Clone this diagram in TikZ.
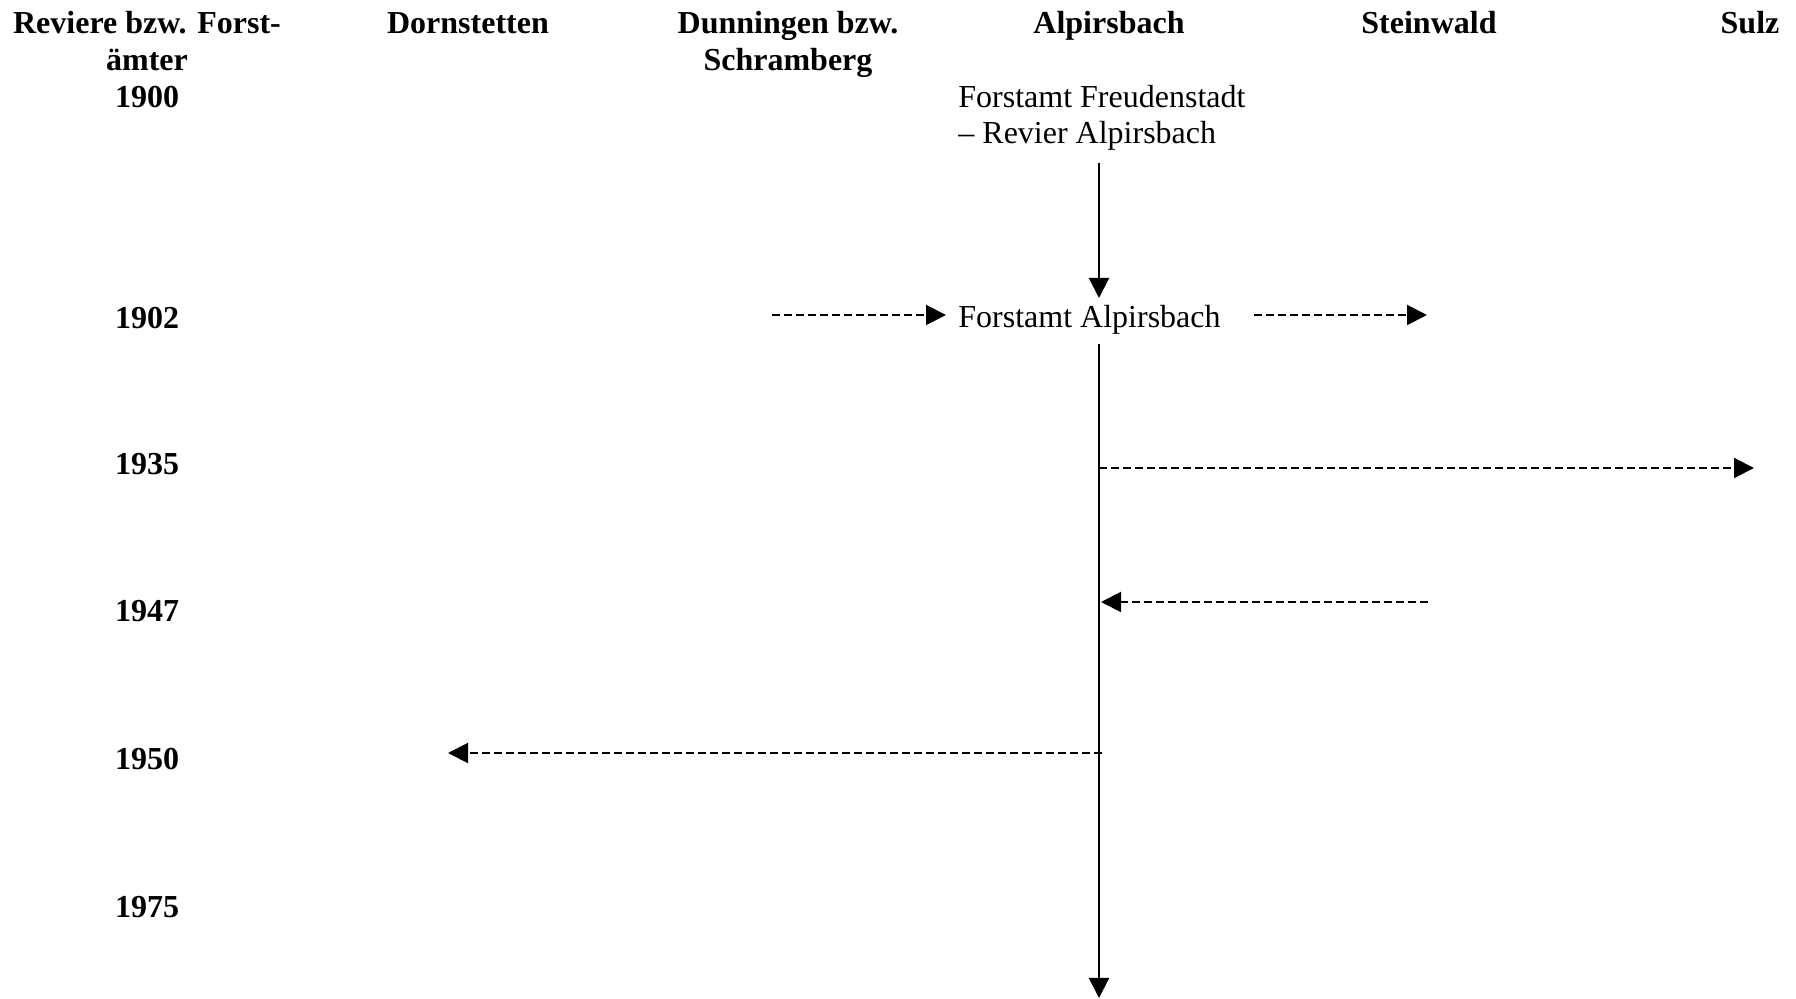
\documentclass[tikz,border=0pt]{standalone}
\usepackage{fontspec}
\setmainfont{Liberation Serif}
\usetikzlibrary{arrows.meta}
\begin{document}
\begin{tikzpicture}[x=0.5pt,y=-0.5pt,
  txt/.style={inner sep=0pt,font=\fontsize{16}{18}\selectfont},
  hdr/.style={txt,anchor=base,font=\fontsize{16}{18}\selectfont\bfseries},
  solidarrow/.style={line width=1pt,-{Triangle[length=10pt,width=10pt]}},
  dasharrow/.style={line width=1pt,dash pattern=on 4pt off 2pt,-{Triangle[length=10pt,width=10pt]}}]
\useasboundingbox (0,0) rectangle (1796,999);
% headers
\node[hdr] (h0a) at (147,34) {Reviere bzw. Forst-};
\node[hdr] (h0b) at (147,71) {ämter};
\node[hdr] (h1) at (468,34) {Dornstetten};
\node[hdr] (h2a) at (788,34) {Dunningen bzw.};
\node[hdr] (h2b) at (788,71) {Schramberg};
\node[hdr] (h3) at (1109,34) {Alpirsbach};
\node[hdr] (h4) at (1429,34) {Steinwald};
\node[hdr] (h5) at (1750,34) {Sulz};
% years
\node[hdr] (y1900) at (147,108) {1900};
\node[hdr] (y1902) at (147,329) {1902};
\node[hdr] (y1935) at (147,475) {1935};
\node[hdr] (y1947) at (147,622) {1947};
\node[hdr] (y1950) at (147,770) {1950};
\node[hdr] (y1975) at (147,918) {1975};
% entries
\node[txt,anchor=base west] (fr1) at (958,108) {Forstamt Freudenstadt};
\node[txt,anchor=base west] (fr2) at (958,144) {– Revier Alpirsbach};
\node[txt,anchor=base west] (fa) at (958,328) {Forstamt Alpirsbach};
% connector ends
\coordinate (t0) at (1099,163);
\coordinate (t1) at (1099,298);
\coordinate (t2) at (1099,344);
\coordinate (t3) at (1099,998);
\coordinate (dl0) at (772,315);
\coordinate (dl1) at (946,315);
\coordinate (dr0) at (1254,315);
\coordinate (dr1) at (1427,315);
\coordinate (s0) at (1099,468);
\coordinate (s1) at (1754,468);
\coordinate (w0) at (1428,602);
\coordinate (w1) at (1101,602);
\coordinate (o0) at (1102,753);
\coordinate (o1) at (448,753);
% connectors
\draw[solidarrow] (t0) -- (t1);
\draw[solidarrow] (t2) -- (t3);
\draw[dasharrow] (dl0) -- (dl1);
\draw[dasharrow] (dr0) -- (dr1);
\draw[dasharrow] (s0) -- (s1);
\draw[dasharrow] (w0) -- (w1);
\draw[dasharrow] (o0) -- (o1);
\end{tikzpicture}
\end{document}
